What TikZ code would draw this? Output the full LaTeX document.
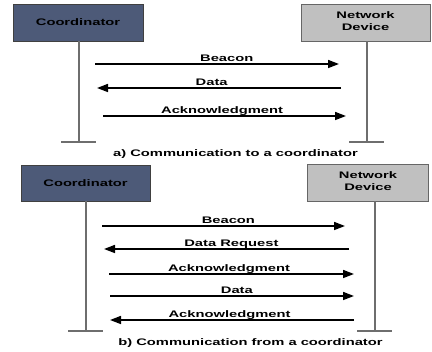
\documentclass[tikz,border=0pt]{standalone}
\usepackage{graphicx}
\usepackage{fontspec}
\setmainfont{Liberation Sans}
\usetikzlibrary{arrows.meta}
\definecolor{coordblue}{RGB}{77,90,120}
\definecolor{devgray}{RGB}{192,192,192}
\definecolor{lifegray}{RGB}{110,110,110}
\newcommand{\wtxt}[1]{\scalebox{1.55}[1]{#1}}

\begin{document}
\begin{tikzpicture}[x=1pt,y=-1pt,
	every node/.style={font=\fontsize{9.5}{11.7}\selectfont\bfseries},
	coordbox/.style={draw=black!75,fill=coordblue,minimum height=37pt,inner sep=0pt},
	devbox/.style={draw=black!60,fill=devgray,minimum height=37pt,inner sep=0pt},
	life/.style={lifegray,line width=1.2pt},
	msg/.style={line width=1.6pt,-{Triangle[length=11pt,width=8pt]}},
	lbl/.style={anchor=base,yshift=2.5pt,inner sep=0pt}]
	\useasboundingbox (0,0) rectangle (432,352);
	\node[coordbox,minimum width=130pt] (coordA) at (78,22.5) {\wtxt{Coordinator}};
	\node[devbox,minimum width=129pt] (devA) at (365.5,22.5) {\wtxt{\begin{tabular}{@{}c@{}}Network\\Device\end{tabular}}};
	\node[coordbox,minimum width=129pt,minimum height=36pt] (coordB) at (85.5,183) {\wtxt{Coordinator}};
	\node[devbox,minimum width=121pt] (devB) at (368,182.5) {\wtxt{\begin{tabular}{@{}c@{}}Network\\Device\end{tabular}}};
	\coordinate (endA) at (79,142);
	\coordinate (endB) at (367,142);
	\coordinate (endC) at (86,331);
	\coordinate (endD) at (375,331);
	\foreach \n/\b in {coordA/endA,devA/endB,coordB/endC,devB/endD} {
		\draw[life] (\n.south -| \b) -- (\b);
		\draw[life] ([xshift=-18pt]\b) -- ([xshift=17pt]\b);
	}
	\foreach \y/\xa/\xb/\p/\t in {64/95/339/0.54/Beacon,88/341/97/0.53/Data,116/103/346/0.49/Acknowledgment,
		226/102/345/0.52/Beacon,249/349/104/0.48/Data Request,274/109/354/0.49/Acknowledgment,
		296/110/354/0.52/Data,320/354/110/0.51/Acknowledgment} {
		\coordinate (m\y s) at (\xa,\y);
		\coordinate (m\y t) at (\xb,\y);
		\draw[msg] (m\y s) -- (m\y t) node[lbl,pos=\p] {\wtxt{\t}};
	}
	\node[anchor=base] (capA) at (235.5,157) {\wtxt{a) Communication to a coordinator}};
	\node[anchor=base] (capB) at (250.5,346) {\wtxt{b) Communication from a coordinator}};
\end{tikzpicture}
\end{document}
